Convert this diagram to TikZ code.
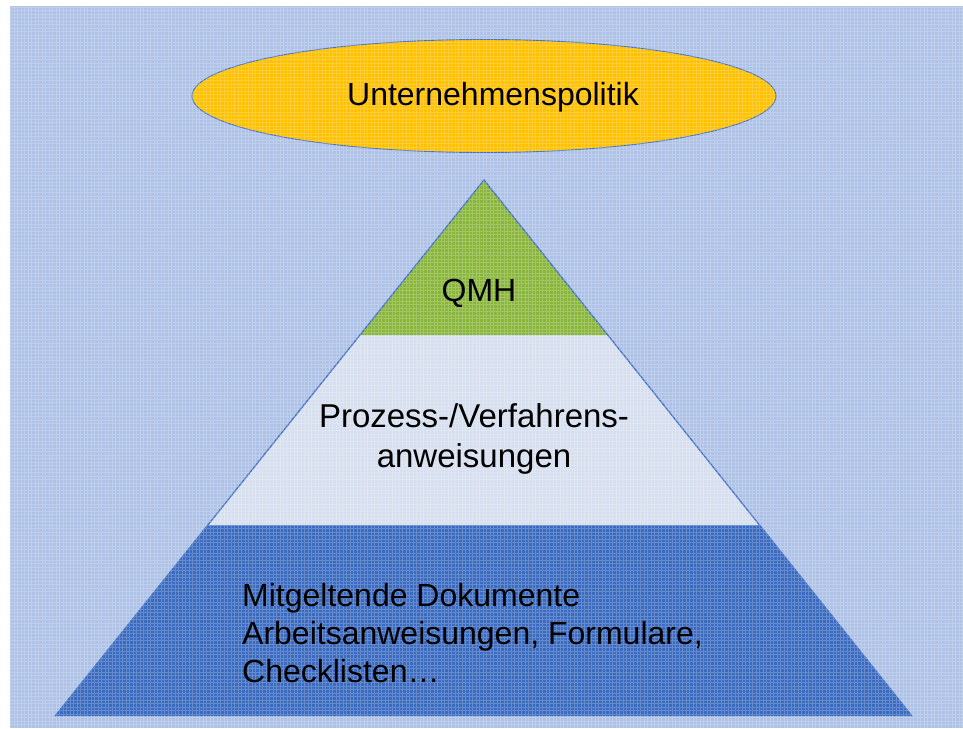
\documentclass[tikz,border=0pt]{standalone}
\usepackage{fontspec}
\setmainfont{Liberation Sans}
\usetikzlibrary{shapes.geometric}
\definecolor{bgblue}{HTML}{ADC2E6}
\definecolor{polgold}{HTML}{FFC000}
\definecolor{qmgreen}{HTML}{88B53A}
\definecolor{paleblue}{HTML}{D6DFEF}
\definecolor{deepblue}{HTML}{3B6BC0}
\definecolor{edgeblue}{HTML}{4472C4}
\begin{document}
\begin{tikzpicture}[x=1pt,y=-1pt,
  lbl/.style={font=\fontsize{32}{38}\selectfont, inner sep=0pt, text=black},
  gridtex/.style={white, opacity=0.22, line width=0.9pt}]
\useasboundingbox (0,0) rectangle (963,728);
\fill[bgblue] (10,6) rectangle (963,728);
% pyramid corner points
\coordinate (apex) at (484,180);
\coordinate (bl) at (55,716);
\coordinate (br) at (912,716);
\coordinate (ml) at (208,525);
\coordinate (mr) at (760,525);
\coordinate (tl) at (360,335);
\coordinate (tr) at (608,335);
\fill[deepblue] (ml) -- (mr) -- (br) -- (bl) -- cycle;
\fill[paleblue] (tl) -- (tr) -- (mr) -- (ml) -- cycle;
\fill[qmgreen] (apex) -- (tr) -- (tl) -- cycle;
\draw[edgeblue, line width=1.3pt] (bl) -- (apex) -- (br);
\node[ellipse, draw=edgeblue, line width=0.9pt, fill=polgold,
      minimum width=584, minimum height=113, inner sep=0pt] (pol) at (484,96) {};
% texture grid
\begin{scope}
\clip (10,6) rectangle (963,728);
\draw[gridtex, step=3.5pt] (10,6) grid (963,728);
\end{scope}
\node[lbl] (poltext) at (493,97) {Unternehmenspolitik};
\node[lbl] (qmh) at (479,293) {QMH};
\node[lbl, font=\fontsize{33}{40}\selectfont, align=center] (proz) at (474,439) {Prozess-/Verfahrens-\\anweisungen};
\node[lbl, align=left, anchor=west] (mit) at (242,633) {Mitgeltende Dokumente\\Arbeitsanweisungen, Formulare,\\Checklisten…};
\end{tikzpicture}
\end{document}
